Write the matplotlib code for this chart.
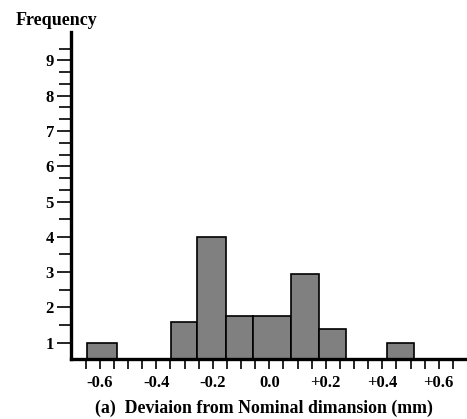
import matplotlib
matplotlib.use("Agg")
import matplotlib.pyplot as plt
import numpy as np

# Data
bin_left = [-0.645, -0.348, -0.255, -0.152, -0.057, 0.078, 0.177, 0.418]
bin_right = [-0.539, -0.255, -0.152, -0.057, 0.078, 0.177, 0.270, 0.514]
frequency = [1.0, 1.6, 4.0, 1.75, 1.75, 2.95, 1.4, 1.0]

x_tick_values = [-0.6, -0.4, -0.2, 0.0, 0.2, 0.4, 0.6]
x_tick_labels = ["-0.6", "-0.4", "-0.2", "0.0", "+0.2", "+0.4", "+0.6"]
y_tick_values = [1, 2, 3, 4, 5, 6, 7, 8, 9]
y_tick_labels = ["1", "2", "3", "4", "5", "6", "7", "8", "9"]

plt.rcParams['font.family'] = ['Liberation Serif', 'DejaVu Serif']
plt.rcParams['font.weight'] = 'bold'

fig = plt.figure(figsize=(4.67, 4.19), dpi=100)
ax = fig.add_axes([0.1514, 0.1425, 0.8486, 0.7818])

widths = [r - l for l, r in zip(bin_left, bin_right)]
ax.bar(bin_left, frequency, width=widths, align='edge', bottom=0,
       color='#808080', edgecolor='black', linewidth=1.2, zorder=2)

ax.set_xlim(-0.703, 0.70)
ax.set_ylim(0.53, 9.81)

for s in ['top', 'right']:
    ax.spines[s].set_visible(False)
for s in ['left', 'bottom']:
    ax.spines[s].set_linewidth(2.4)
    ax.spines[s].set_zorder(3)

ax.set_xticks(x_tick_values)
ax.set_xticklabels(x_tick_labels, fontsize=12, fontweight='bold')
ax.set_xticks(np.arange(-0.65, 0.66, 0.05), minor=True)
ax.set_yticks(y_tick_values)
ax.set_yticklabels(y_tick_labels, fontsize=12, fontweight='bold')
minor_y = [1.5, 2.5, 3.5, 4.5, 5.33, 5.67, 6.33, 6.67, 7.33, 7.67, 8.33, 8.67, 9.33]
ax.set_yticks(minor_y, minor=True)

ax.tick_params(axis='x', which='both', direction='out', length=7, width=1.2, pad=4)
ax.tick_params(axis='y', which='major', direction='out', length=10, width=1.2, pad=2)
ax.tick_params(axis='y', which='minor', direction='out', length=9, width=1.2)

fig.text(0.12, 0.952, "Frequency", ha='center', va='center', fontsize=13, fontweight='bold')
fig.text(0.565, 0.026, "(a)  Deviaion from Nominal dimansion (mm)", ha='center', va='center',
         fontsize=12.8, fontweight='bold')

fig.savefig("out.png", dpi=100)
